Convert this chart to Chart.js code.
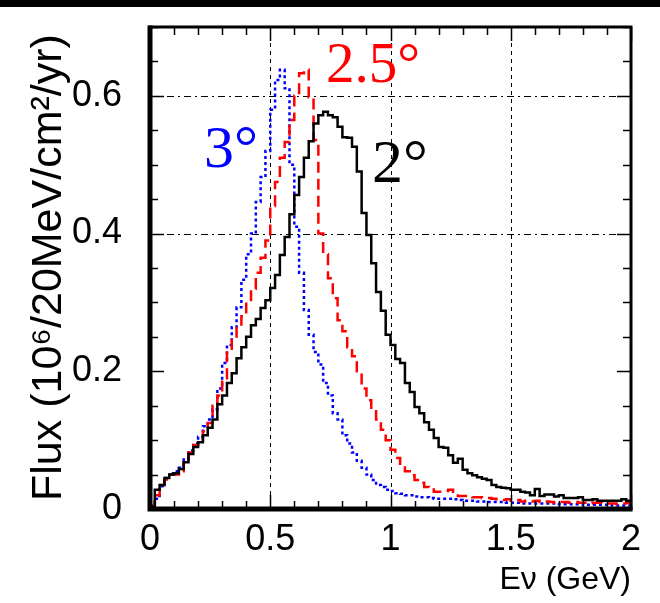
<!DOCTYPE html>
<html>
<head>
<meta charset="utf-8">
<script src="https://cdn.jsdelivr.net/npm/chart.js@4"></script>
<style>
  html, body { margin: 0; padding: 0; background: #fff; }
  #wrap { width: 660px; height: 603px; position: relative; }
</style>
</head>
<body>
<div id="wrap"><canvas id="flux"></canvas></div>
<script>
// Neutrino flux vs energy, 20 MeV bins, for three off-axis angles

const binWidth = 0.02; // GeV
const nBins = 100;

const flux2deg = [
    0.003, 0.028, 0.035, 0.045, 0.05, 0.052, 0.058, 0.068, 0.08, 0.09,
    0.097, 0.107, 0.118, 0.13, 0.152, 0.165, 0.183, 0.197, 0.219, 0.235,
    0.25, 0.267, 0.276, 0.292, 0.303, 0.321, 0.34, 0.369, 0.395, 0.428,
    0.456, 0.482, 0.51, 0.534, 0.56, 0.572, 0.577, 0.572, 0.569, 0.555,
    0.54, 0.539, 0.526, 0.49, 0.43, 0.398, 0.357, 0.315, 0.288, 0.253,
    0.238, 0.218, 0.212, 0.183, 0.17, 0.148, 0.139, 0.126, 0.115, 0.103,
    0.09, 0.089, 0.078, 0.067, 0.073, 0.057, 0.052, 0.049, 0.046, 0.044,
    0.042, 0.035, 0.032, 0.031, 0.03, 0.028, 0.028, 0.025, 0.024, 0.02,
    0.029, 0.019, 0.021, 0.021, 0.018, 0.02, 0.016, 0.016, 0.016, 0.017,
    0.013, 0.013, 0.014, 0.012, 0.012, 0.012, 0.012, 0.012, 0.014, 0.012
];

const flux25deg = [
    0.004, 0.02, 0.035, 0.043, 0.05, 0.05, 0.055, 0.07, 0.082, 0.093,
    0.1, 0.113, 0.125, 0.15, 0.165, 0.19, 0.23, 0.245, 0.265, 0.28,
    0.3, 0.32, 0.343, 0.365, 0.39, 0.44, 0.475, 0.51, 0.533, 0.565,
    0.6, 0.633, 0.638, 0.598, 0.536, 0.4, 0.37, 0.335, 0.306, 0.274,
    0.258, 0.235, 0.222, 0.2, 0.175, 0.158, 0.144, 0.13, 0.115, 0.1,
    0.086, 0.074, 0.063, 0.055, 0.049, 0.042, 0.038, 0.032, 0.03, 0.025,
    0.025, 0.026, 0.028, 0.022, 0.019, 0.019, 0.018, 0.017, 0.017, 0.016,
    0.016, 0.015, 0.014, 0.013, 0.014, 0.012, 0.013, 0.011, 0.012, 0.011,
    0.012, 0.01, 0.011, 0.01, 0.009, 0.01, 0.01, 0.009, 0.01, 0.009,
    0.009, 0.008, 0.009, 0.009, 0.008, 0.008, 0.008, 0.007, 0.008, 0.009
];

const flux3deg = [
    0.005, 0.015, 0.033, 0.045, 0.052, 0.055, 0.06, 0.072, 0.085, 0.095,
    0.105, 0.12, 0.13, 0.145, 0.175, 0.212, 0.238, 0.264, 0.293, 0.333,
    0.37, 0.4, 0.446, 0.482, 0.52, 0.58, 0.623, 0.638, 0.611, 0.5,
    0.41, 0.343, 0.289, 0.253, 0.228, 0.21, 0.183, 0.165, 0.139, 0.13,
    0.107, 0.095, 0.082, 0.07, 0.06, 0.05, 0.042, 0.035, 0.032, 0.028,
    0.026, 0.023, 0.022, 0.02, 0.02, 0.018, 0.017, 0.017, 0.016, 0.015,
    0.015, 0.015, 0.015, 0.014, 0.013, 0.012, 0.012, 0.012, 0.011, 0.011,
    0.01, 0.01, 0.01, 0.01, 0.009, 0.009, 0.009, 0.008, 0.008, 0.008,
    0.008, 0.008, 0.008, 0.008, 0.008, 0.007, 0.007, 0.007, 0.007, 0.007,
    0.006, 0.006, 0.006, 0.006, 0.006, 0.006, 0.005, 0.005, 0.005, 0.005
];

const xTickValues = [0, 0.5, 1, 1.5, 2];
const xTickLabels = ['0', '0.5', '1', '1.5', '2'];
const yTickValues = [0, 0.2, 0.4, 0.6];
const yTickLabels = ['0', '0.2', '0.4', '0.6'];
const xGridValues = [0.5, 1, 1.5];
const yGridValues = [0.4, 0.6];

const seriesNames = ['2°', '2.5°', '3°'];
const seriesColors = ['#000000', '#ff0000', '#0000ff'];

// histogram -> step points (left bin edges + closing point)
function toSteps(values) {
    const pts = values.map((v, i) => ({ x: i * binWidth, y: v }));
    pts.push({ x: nBins * binWidth, y: values[values.length - 1] });
    return pts;
}

const sansFont = '"Liberation Sans", Arial, Helvetica, sans-serif';
const serifFont = '"Liberation Serif", "Times New Roman", serif';

// grid lines, drawn under the histograms
const gridPlugin = {
    id: 'rootGrid',
    beforeDatasetsDraw(chart) {
        const { ctx, chartArea: a, scales: { x, y } } = chart;
        ctx.save();
        ctx.strokeStyle = '#000';
        ctx.lineWidth = 1;
        ctx.setLineDash([4, 4]);
        xGridValues.forEach(v => {
            const px = Math.round(x.getPixelForValue(v)) + 0.5;
            ctx.beginPath();
            ctx.moveTo(px, a.top);
            ctx.lineTo(px, a.bottom);
            ctx.stroke();
        });
        ctx.setLineDash([7, 4, 2, 4]);
        yGridValues.forEach(v => {
            const py = Math.round(y.getPixelForValue(v)) + 0.5;
            ctx.beginPath();
            ctx.moveTo(a.left, py);
            ctx.lineTo(a.right, py);
            ctx.stroke();
        });
        ctx.restore();
    }
};

// frame, inward ticks, labels and annotations
const framePlugin = {
    id: 'rootFrame',
    beforeDraw(chart) {
        const ctx = chart.ctx;
        ctx.save();
        ctx.fillStyle = '#fff';
        ctx.fillRect(0, 0, chart.width, chart.height);
        ctx.fillStyle = '#000';
        ctx.fillRect(0, 0, chart.width, 7);
        ctx.restore();
    },
    afterDraw(chart) {
        const { ctx, chartArea: a, scales: { x, y } } = chart;
        ctx.save();
        ctx.strokeStyle = '#000';
        ctx.fillStyle = '#000';

        // ticks
        ctx.lineWidth = 1.5;
        for (let k = 0; k <= 20; k++) {
            const v = k * 0.1;
            const px = Math.round(x.getPixelForValue(v)) + 0.5;
            const len = k % 5 === 0 ? 14 : 8;
            ctx.beginPath();
            ctx.moveTo(px, a.bottom); ctx.lineTo(px, a.bottom - len);
            ctx.moveTo(px, a.top); ctx.lineTo(px, a.top + len);
            ctx.stroke();
        }
        for (let k = 0; k <= 14; k++) {
            const v = k * 0.05;
            const py = Math.round(y.getPixelForValue(v)) + 0.5;
            const len = k % 4 === 0 ? 14 : 8;
            ctx.beginPath();
            ctx.moveTo(a.left, py); ctx.lineTo(a.left + len, py);
            ctx.moveTo(a.right, py); ctx.lineTo(a.right - len, py);
            ctx.stroke();
        }

        // box (left/bottom a bit heavier)
        ctx.lineWidth = 3;
        ctx.strokeRect(a.left, a.top, a.right - a.left, a.bottom - a.top);
        ctx.lineWidth = 5;
        ctx.beginPath();
        ctx.moveTo(a.left, a.top - 1.5);
        ctx.lineTo(a.left, a.bottom);
        ctx.lineTo(a.right + 1.5, a.bottom);
        ctx.stroke();

        // tick labels
        ctx.font = '36px ' + sansFont;
        ctx.textAlign = 'center';
        ctx.textBaseline = 'top';
        xTickValues.forEach((v, i) => {
            ctx.fillText(xTickLabels[i], x.getPixelForValue(v), a.bottom + 13);
        });
        ctx.textAlign = 'right';
        ctx.textBaseline = 'middle';
        yTickValues.forEach((v, i) => {
            ctx.fillText(yTickLabels[i], a.left - 28, y.getPixelForValue(v));
        });

        // axis titles
        ctx.font = '32px ' + sansFont;
        ctx.textAlign = 'right';
        ctx.textBaseline = 'alphabetic';
        ctx.fillText('Eν (GeV)', a.right, 589);

        ctx.translate(61, 501);
        ctx.rotate(-Math.PI / 2);
        ctx.textAlign = 'left';
        ctx.font = '43px ' + sansFont;
        ctx.fillText('Flux (10⁶/20MeV/cm²/yr)', 0, 0);
        ctx.restore();

        // angle annotations
        ctx.save();
        ctx.font = '60px ' + serifFont;
        ctx.textAlign = 'left';
        ctx.textBaseline = 'alphabetic';
        ctx.fillStyle = seriesColors[2];
        ctx.fillText(seriesNames[2], 204, 167);
        ctx.fillStyle = seriesColors[1];
        ctx.font = '57px ' + serifFont;
        ctx.fillText(seriesNames[1], 326, 82);
        ctx.fillStyle = seriesColors[0];
        ctx.font = '62px ' + serifFont;
        ctx.fillText(seriesNames[0], 372, 182);
        ctx.restore();
    }
};

new Chart(document.getElementById('flux'), {
    type: 'line',
    data: {
        datasets: [
            {
                label: seriesNames[0],
                data: toSteps(flux2deg),
                borderColor: seriesColors[0],
                borderWidth: 2.5,
                stepped: 'before',
                pointRadius: 0,
                fill: false
            },
            {
                label: seriesNames[1],
                data: toSteps(flux25deg),
                borderColor: seriesColors[1],
                borderWidth: 2.5,
                borderDash: [11, 6],
                stepped: 'before',
                pointRadius: 0,
                fill: false
            },
            {
                label: seriesNames[2],
                data: toSteps(flux3deg),
                borderColor: seriesColors[2],
                borderWidth: 2.5,
                borderDash: [3, 3],
                stepped: 'before',
                pointRadius: 0,
                fill: false
            }
        ]
    },
    options: {
        responsive: true,
        maintainAspectRatio: false,
        animation: false,
        layout: {
            padding: { left: 150, right: 29, top: 27, bottom: 94 }
        },
        plugins: {
            legend: { display: false },
            tooltip: { enabled: false }
        },
        scales: {
            x: { type: 'linear', min: 0, max: 2, display: false },
            y: { type: 'linear', min: 0, max: 0.7, display: false }
        }
    },
    plugins: [gridPlugin, framePlugin]
});
</script>
</body>
</html>
